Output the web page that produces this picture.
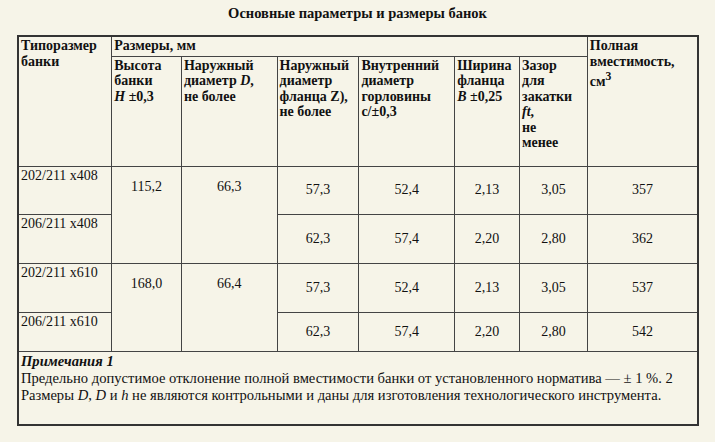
<!DOCTYPE html>
<html><head><meta charset="utf-8">
<script src="https://cdn.jsdelivr.net/npm/chart.js@4"></script>
<style>
body{margin:0;background:#f6f4e8;font-family:"Liberation Serif",serif;font-size:14px;color:#111;width:715px;height:442px;overflow:hidden}
h1{font-size:14.5px;text-align:center;margin:4px 0 0 0;height:31px;line-height:18px}
table{position:absolute;left:17px;top:35px;width:682px;border-collapse:collapse;border:2px solid #333}
td,th{border:1px solid #444;padding:1px 2px;vertical-align:top;line-height:15.5px}
th{font-weight:bold;text-align:left}
td.v{text-align:center;vertical-align:middle}
td.n{text-align:left;vertical-align:top}
td.note{font-size:14.6px;line-height:17px}
</style></head><body>
<h1>Основные параметры и размеры банок</h1>
<table id="t"></table>
<script>
const types=["202/211 х408","206/211 х408","202/211 х610","206/211 х610"];
const heights=["115,2","168,0"];
const outerD=["66,3","66,4"];
const flangeZ=["57,3","62,3","57,3","62,3"];
const innerD=["52,4","57,4","52,4","57,4"];
const widthB=["2,13","2,20","2,13","2,20"];
const gap=["3,05","2,80","3,05","2,80"];
const volume=["357","362","537","542"];
const widths=[94,70,96,82,96,65,68,111];
let h='<colgroup>'+widths.map(w=>'<col style="width:'+w+'px">').join('')+'</colgroup>';
h+='<tr style="height:20px"><th rowspan="2">Типоразмер<br>банки</th><th colspan="6" style="border-bottom:none">Размеры, мм</th><th rowspan="2">Полная<br>вместимость,<br>см<sup>3</sup></th></tr>';
h+='<tr style="height:110px"><th>Высота<br>банки<br><i>H</i> ±0,3</th><th>Наружный<br>диаметр <i>D</i>,<br>не более</th><th>Наружный<br>диаметр<br>фланца Z),<br>не более</th><th>Внутренний<br>диаметр<br>горловины<br>c/±0,3</th><th>Ширина<br>фланца<br><i>B</i> ±0,25</th><th>Зазор<br>для<br>закатки<br><i>ft</i>,<br>не<br>менее</th></tr>';
const rh=[48,49,49,39];
for(let i=0;i<4;i++){
 h+='<tr style="height:'+rh[i]+'px"><td class="n">'+types[i]+'</td>';
 if(i%2==0) h+='<td class="v" rowspan="2" style="vertical-align:top;padding-top:12px">'+heights[i/2]+'</td><td class="v" rowspan="2" style="vertical-align:top;padding-top:12px">'+outerD[i/2]+'</td>';
 h+='<td class="v">'+flangeZ[i]+'</td><td class="v">'+innerD[i]+'</td><td class="v">'+widthB[i]+'</td><td class="v">'+gap[i]+'</td><td class="v">'+volume[i]+'</td></tr>';
}
h+='<tr style="height:74px"><td colspan="8" class="n note"><b><i>Примечания 1</i></b><br>Предельно допустимое отклонение полной вместимости банки от установленного норматива — ± 1 %. 2 Размеры <i>D</i>, <i>D</i> и <i>h</i> не являются контрольными и даны для изготовления технологического инструмента.</td></tr>';
document.getElementById('t').innerHTML=h;
</script>
</body></html>
